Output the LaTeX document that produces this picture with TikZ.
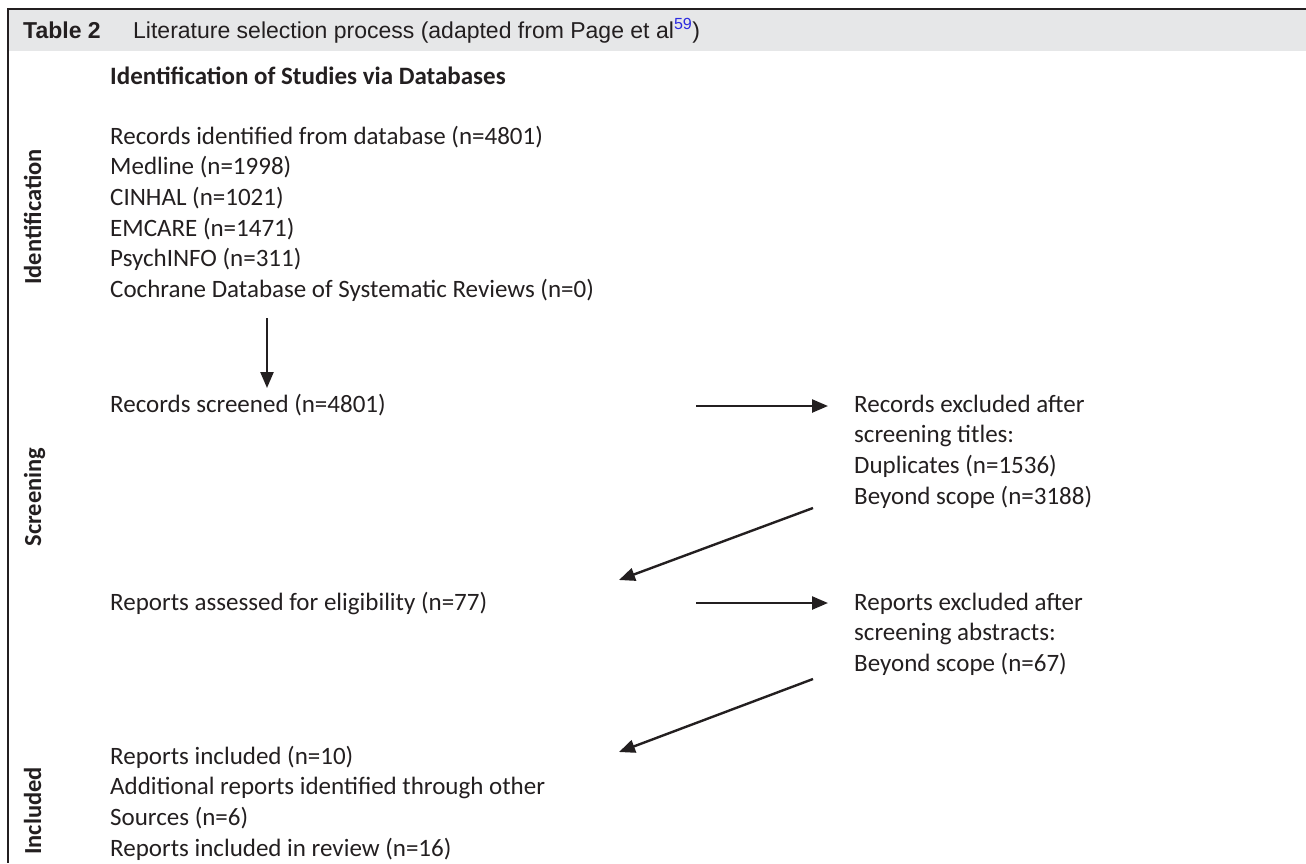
\documentclass[tikz,border=0pt]{standalone}
\usepackage{fontspec}
\setmainfont{Carlito}
\newfontfamily\titlefont{Liberation Sans}
\usetikzlibrary{arrows.meta}
\definecolor{bandgrey}{HTML}{E6E7E8}
\definecolor{refblue}{HTML}{2B2BE0}
\definecolor{ink}{HTML}{231F20}
\begin{document}
\begin{tikzpicture}[x=1pt,y=-1pt,
  txt/.style={anchor=north west, inner sep=0pt, align=left, text=ink,
              font=\fontsize{25}{30.6}\selectfont},
  side/.style={anchor=base, inner sep=0pt, rotate=90, text=ink,
               font=\fontsize{24.5}{29}\selectfont\bfseries},
  ttl/.style={anchor=base west, inner sep=0pt, text=ink,
              font=\titlefont\fontsize{23}{27}\selectfont},
  arr/.style={draw=ink, line width=2.4pt,
              -{Triangle[length=16pt,width=13pt]}}
]
\useasboundingbox (0,0) rectangle (1306,863);
% header band and frame
\fill[bandgrey] (8,9) rectangle (1306,51);
\draw[ink, line width=2pt] (7,9) -- (1306,9);
\draw[ink, line width=1.5pt] (8,9) -- (8,863);
\node[ttl, font=\titlefont\fontsize{23}{27}\selectfont\bfseries] (tnum) at (23,38.5) {Table 2};
\node[ttl] (ttext) at (133,38.5) {Literature selection process (adapted from Page et al\textsuperscript{\color{refblue}59})};
% side labels
\node[side] (sid) at (41,217) {Identification};
\node[side] (sscr) at (41,497) {Screening};
\node[side] (sinc) at (41,811) {Included};
% heading
\node[txt, font=\fontsize{25}{30.6}\selectfont\bfseries] (head) at (110,62.6) {\strut Identification of Studies via Databases};
% left column
\node[txt] (ident) at (110,122.6) {\strut Records identified from database (n=4801)\\
Medline (n=1998)\\
CINHAL (n=1021)\\
EMCARE (n=1471)\\
PsychINFO (n=311)\\
Cochrane Database of Systematic Reviews (n=0)};
\node[txt] (screened) at (110,390.6) {\strut Records screened (n=4801)};
\node[txt] (assessed) at (110,588.6) {\strut Reports assessed for eligibility (n=77)};
\node[txt] (included) at (110,742.6) {\strut Reports included (n=10)\\
Additional reports identified through other\\
Sources (n=6)\\
Reports included in review (n=16)};
% right column
\node[txt] (excl1) at (854,390.6) {\strut Records excluded after\\
screening titles:\\
Duplicates (n=1536)\\
Beyond scope (n=3188)};
\node[txt] (excl2) at (854,588.6) {\strut Reports excluded after\\
screening abstracts:\\
Beyond scope (n=67)};
% arrow end points
\coordinate (v1) at (267,318);
\coordinate (v2) at (267,388);
\coordinate (h1a) at (696,406);
\coordinate (h1b) at (828,406);
\coordinate (d1a) at (813,508);
\coordinate (d1b) at (619,580);
\coordinate (h2a) at (696,603);
\coordinate (h2b) at (828,603);
\coordinate (d2a) at (813,679);
\coordinate (d2b) at (619,752);
\draw[arr] (v1) -- (v2);
\draw[arr] (h1a) -- (h1b);
\draw[arr] (d1a) -- (d1b);
\draw[arr] (h2a) -- (h2b);
\draw[arr] (d2a) -- (d2b);
\end{tikzpicture}
\end{document}
